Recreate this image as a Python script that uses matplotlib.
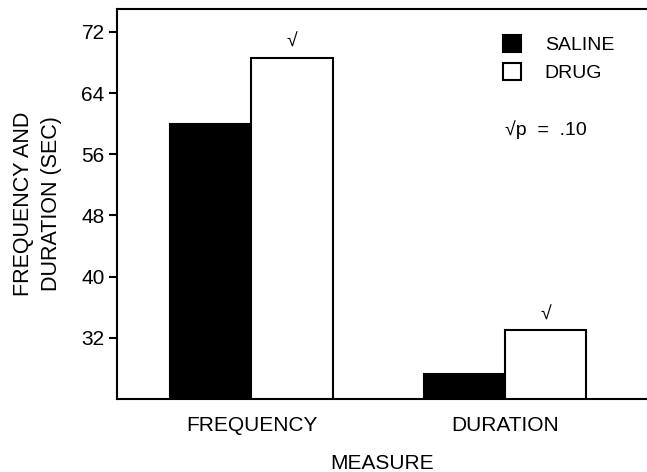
import numpy as np
import matplotlib
matplotlib.use("Agg")
import matplotlib.pyplot as plt

# values
measures = ["FREQUENCY", "DURATION"]
saline = [60.0, 27.2]
drug = [68.6, 33.0]
yticks = [32, 40, 48, 56, 64, 72]

plt.rcParams['font.family'] = ['Liberation Sans', 'DejaVu Sans']

fig = plt.figure(figsize=(6.47, 4.72), dpi=100)
ax = fig.add_axes([0.181, 0.155, 0.819, 0.826])

x = np.arange(len(measures))
w = 0.32
b1 = ax.bar(x - w / 2, saline, w, color='black', edgecolor='black',
            linewidth=1.5, label='SALINE')
b2 = ax.bar(x + w / 2, drug, w, color='white', edgecolor='black',
            linewidth=1.5, label='DRUG')

# significance marks above drug bars
for xi, v in zip(x, drug):
    ax.text(xi + w / 2, v + 0.9, "\u221a", ha='center', va='bottom', fontsize=14)

ax.set_ylim(24, 75)
ax.set_xlim(-0.53, 1.56)
ax.set_yticks(yticks)
ax.set_yticklabels([str(t) for t in yticks], fontsize=15)
ax.set_xticks(x)
ax.set_xticklabels(measures, fontsize=15)
ax.tick_params(axis='x', length=0, pad=12)
ax.tick_params(axis='y', direction='out', length=6, width=1.5, pad=3)

for s in ['left', 'bottom', 'top']:
    ax.spines[s].set_linewidth(1.5)
ax.spines['right'].set_visible(False)

ax.set_xlabel("MEASURE", fontsize=15, labelpad=14)
fig.text(37.5 / 647, 1 - 204 / 472, "FREQUENCY AND\nDURATION (SEC)", rotation=90,
         ha='center', va='center', fontsize=15.5, linespacing=1.45)

leg = ax.legend(handles=[b1, b2], loc='upper left', bbox_to_anchor=(0.695, 0.978),
                frameon=False, fontsize=14, handlelength=0.95, handleheight=0.95,
                handletextpad=1.2, labelspacing=0.45)

ax.text(0.732, 0.69, "\u221ap  =  .10", transform=ax.transAxes, fontsize=14,
        ha='left', va='center')

fig.savefig("out.png", dpi=100)
